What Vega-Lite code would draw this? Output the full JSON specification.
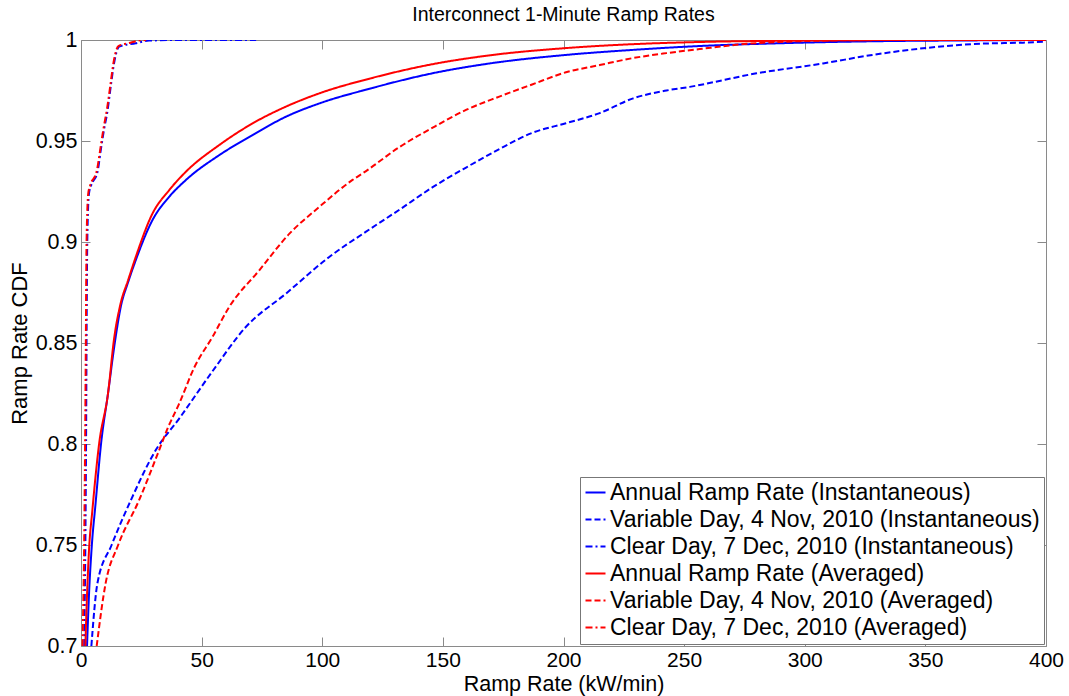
{
  "$schema": "https://vega.github.io/schema/vega-lite/v6.json",
  "width": 965,
  "height": 606,
  "autosize": "none",
  "padding": {"left": 81, "top": 40, "right": 23, "bottom": 50},
  "background": "white",
  "title": {"text": "Interconnect 1-Minute Ramp Rates", "fontSize": 19.5, "fontWeight": "normal", "font": "Liberation Sans", "color": "black", "offset": 4},
  "config": {
    "view": {"stroke": "#8a8a8a", "strokeWidth": 1},
    "axis": {"grid": false, "domain": false, "tickColor": "#8a8a8a", "tickSize": -9, "labelFont": "Liberation Sans", "titleFont": "Liberation Sans", "labelColor": "black", "titleColor": "black", "titleFontWeight": "normal", "labelOverlap": false, "labelFlush": false},
    "legend": {"labelFont": "Liberation Sans"}
  },
  "data": {"values": [
    {"s":"AI","x":2.5,"y":0.70},{"s":"AI","x":3.3,"y":0.725},{"s":"AI","x":4.5,"y":0.75},{"s":"AI","x":6,"y":0.77},{"s":"AI","x":8.3,"y":0.80},{"s":"AI","x":11.2,"y":0.825},{"s":"AI","x":14,"y":0.85},{"s":"AI","x":16.5,"y":0.868},{"s":"AI","x":19.5,"y":0.88},{"s":"AI","x":22.7,"y":0.891},{"s":"AI","x":29.6,"y":0.9108},{"s":"AI","x":36.5,"y":0.9223},{"s":"AI","x":43.4,"y":0.9306},{"s":"AI","x":57.3,"y":0.943},{"s":"AI","x":71.1,"y":0.9529},{"s":"AI","x":84.9,"y":0.962},{"s":"AI","x":98.8,"y":0.9686},{"s":"AI","x":120,"y":0.976},{"s":"AI","x":145.6,"y":0.9835},{"s":"AI","x":170,"y":0.9885},{"s":"AI","x":201,"y":0.9926},{"s":"AI","x":230,"y":0.9952},{"s":"AI","x":256,"y":0.997},{"s":"AI","x":290,"y":0.9984},{"s":"AI","x":330,"y":0.9994},{"s":"AI","x":370,"y":0.9998},{"s":"AI","x":400,"y":1.0},
    {"s":"VI","x":4.3,"y":0.70},{"s":"VI","x":6.8,"y":0.731},{"s":"VI","x":12.7,"y":0.75},{"s":"VI","x":20.6,"y":0.772},{"s":"VI","x":31,"y":0.797},{"s":"VI","x":40.7,"y":0.8126},{"s":"VI","x":54.5,"y":0.836},{"s":"VI","x":68.3,"y":0.8579},{"s":"VI","x":84.9,"y":0.8744},{"s":"VI","x":102.9,"y":0.8926},{"s":"VI","x":118,"y":0.905},{"s":"VI","x":132,"y":0.916},{"s":"VI","x":145.6,"y":0.927},{"s":"VI","x":159.8,"y":0.937},{"s":"VI","x":173.4,"y":0.946},{"s":"VI","x":187,"y":0.954},{"s":"VI","x":201,"y":0.9588},{"s":"VI","x":215,"y":0.9638},{"s":"VI","x":228.6,"y":0.971},{"s":"VI","x":242.7,"y":0.975},{"s":"VI","x":252.3,"y":0.9768},{"s":"VI","x":280,"y":0.9835},{"s":"VI","x":307.6,"y":0.9884},{"s":"VI","x":328,"y":0.9926},{"s":"VI","x":349,"y":0.9959},{"s":"VI","x":369.8,"y":0.998},{"s":"VI","x":390.5,"y":0.9987},{"s":"VI","x":400,"y":0.9992},
    {"s":"CI","x":1.3,"y":0.70},{"s":"CI","x":1.8,"y":0.75},{"s":"CI","x":2.1,"y":0.80},{"s":"CI","x":2.3,"y":0.85},{"s":"CI","x":2.6,"y":0.90},{"s":"CI","x":3.3,"y":0.924},{"s":"CI","x":4.2,"y":0.928},{"s":"CI","x":6.8,"y":0.9345},{"s":"CI","x":8.2,"y":0.9455},{"s":"CI","x":9.5,"y":0.9554},{"s":"CI","x":11,"y":0.965},{"s":"CI","x":12.3,"y":0.9768},{"s":"CI","x":13.7,"y":0.9885},{"s":"CI","x":15.8,"y":0.9967},{"s":"CI","x":22.7,"y":0.9984},{"s":"CI","x":28.2,"y":0.9997},{"s":"CI","x":40,"y":1.0},{"s":"CI","x":72.6,"y":1.0},
    {"s":"AA","x":1.8,"y":0.70},{"s":"AA","x":2.4,"y":0.722},{"s":"AA","x":3.3,"y":0.747},{"s":"AA","x":4.7,"y":0.767},{"s":"AA","x":7.5,"y":0.80},{"s":"AA","x":11.2,"y":0.825},{"s":"AA","x":13.7,"y":0.852},{"s":"AA","x":16.3,"y":0.869},{"s":"AA","x":19.5,"y":0.881},{"s":"AA","x":22.7,"y":0.8926},{"s":"AA","x":29.6,"y":0.914},{"s":"AA","x":36.5,"y":0.9256},{"s":"AA","x":43.4,"y":0.9347},{"s":"AA","x":57.3,"y":0.948},{"s":"AA","x":71.1,"y":0.9587},{"s":"AA","x":84.9,"y":0.967},{"s":"AA","x":98.8,"y":0.9736},{"s":"AA","x":120,"y":0.981},{"s":"AA","x":145.6,"y":0.988},{"s":"AA","x":170,"y":0.9925},{"s":"AA","x":201,"y":0.996},{"s":"AA","x":230,"y":0.998},{"s":"AA","x":256,"y":0.999},{"s":"AA","x":300,"y":0.9997},{"s":"AA","x":350,"y":1.0},{"s":"AA","x":400,"y":1.0},
    {"s":"VA","x":6.5,"y":0.70},{"s":"VA","x":10.2,"y":0.731},{"s":"VA","x":15.4,"y":0.75},{"s":"VA","x":24,"y":0.772},{"s":"VA","x":32.4,"y":0.797},{"s":"VA","x":36,"y":0.808},{"s":"VA","x":40.7,"y":0.82},{"s":"VA","x":47,"y":0.838},{"s":"VA","x":54.5,"y":0.853},{"s":"VA","x":61.4,"y":0.8678},{"s":"VA","x":73.9,"y":0.886},{"s":"VA","x":86.3,"y":0.904},{"s":"VA","x":98.8,"y":0.9174},{"s":"VA","x":112.4,"y":0.9306},{"s":"VA","x":118,"y":0.935},{"s":"VA","x":132,"y":0.947},{"s":"VA","x":145.6,"y":0.9565},{"s":"VA","x":159.8,"y":0.9655},{"s":"VA","x":173.4,"y":0.972},{"s":"VA","x":187,"y":0.978},{"s":"VA","x":201,"y":0.984},{"s":"VA","x":215,"y":0.9876},{"s":"VA","x":228.6,"y":0.991},{"s":"VA","x":242.7,"y":0.9935},{"s":"VA","x":256.4,"y":0.9955},{"s":"VA","x":275,"y":0.998},{"s":"VA","x":301,"y":0.9995},{"s":"VA","x":330,"y":1.0},
    {"s":"CA","x":0.6,"y":0.70},{"s":"CA","x":1.3,"y":0.75},{"s":"CA","x":1.7,"y":0.80},{"s":"CA","x":2,"y":0.85},{"s":"CA","x":2.3,"y":0.90},{"s":"CA","x":3,"y":0.924},{"s":"CA","x":3.8,"y":0.928},{"s":"CA","x":6.5,"y":0.935},{"s":"CA","x":8,"y":0.946},{"s":"CA","x":9.3,"y":0.956},{"s":"CA","x":10.8,"y":0.966},{"s":"CA","x":12.1,"y":0.977},{"s":"CA","x":13.5,"y":0.989},{"s":"CA","x":15.5,"y":0.997},{"s":"CA","x":20,"y":0.9985},{"s":"CA","x":24,"y":0.9997},{"s":"CA","x":27,"y":1.0}
  ]},
  "layer": [
    {
      "mark": {"type": "line", "strokeWidth": 2, "clip": true, "interpolate": "monotone"},
      "encoding": {
        "x": {"field": "x", "type": "quantitative", "scale": {"domain": [0, 400], "nice": false, "zero": false},
              "axis": {"orient": "bottom", "values": [0,50,100,150,200,250,300,350,400], "labelFontSize": 21, "labelPadding": 12, "title": "Ramp Rate (kW/min)", "titleFontSize": 21.5, "titlePadding": 3}},
        "y": {"field": "y", "type": "quantitative", "scale": {"domain": [0.7, 1], "nice": false, "zero": false},
              "axis": {"orient": "left", "values": [0.7,0.75,0.8,0.85,0.9,0.95,1], "format": "~g", "labelFontSize": 21.5, "labelPadding": 13, "title": "Ramp Rate CDF", "titleFontSize": 22, "titlePadding": 4}},
        "color": {"field": "s", "type": "nominal",
                  "scale": {"domain": ["AI","VI","CI","AA","VA","CA"], "range": ["#0000ff","#0000ff","#0000ff","#ff0000","#ff0000","#ff0000"]},
                  "legend": {"title": null, "orient": "bottom-right", "offset": 2, "fillColor": "white", "strokeColor": "#777777", "padding": 4,
                             "labelFontSize": 23, "labelColor": "black", "labelLimit": 700, "labelOffset": 3, "rowPadding": 3,
                             "symbolType": "stroke", "symbolSize": 400, "symbolStrokeWidth": 2,
                             "labelExpr": "datum.label == 'AI' ? 'Annual Ramp Rate (Instantaneous)' : datum.label == 'VI' ? 'Variable Day, 4 Nov, 2010 (Instantaneous)' : datum.label == 'CI' ? 'Clear Day, 7 Dec, 2010 (Instantaneous)' : datum.label == 'AA' ? 'Annual Ramp Rate (Averaged)' : datum.label == 'VA' ? 'Variable Day, 4 Nov, 2010 (Averaged)' : 'Clear Day, 7 Dec, 2010 (Averaged)'"}},
        "strokeDash": {"field": "s", "type": "nominal",
                       "scale": {"domain": ["AI","VI","CI","AA","VA","CA"], "range": [[1,0],[6,3],[7,3,2,3],[1,0],[6,3],[7,3,2,3]]}},
        "order": {"field": "x", "type": "quantitative"}
      }
    },
    {
      "mark": {"type": "point", "opacity": 0, "clip": true},
      "encoding": {
        "x": {"field": "x", "type": "quantitative", "axis": {"orient": "top", "values": [0,50,100,150,200,250,300,350,400], "labels": false, "title": null}},
        "y": {"field": "y", "type": "quantitative", "axis": {"orient": "right", "values": [0.7,0.75,0.8,0.85,0.9,0.95,1], "labels": false, "title": null}}
      }
    }
  ],
  "resolve": {"axis": {"x": "independent", "y": "independent"}}
}
